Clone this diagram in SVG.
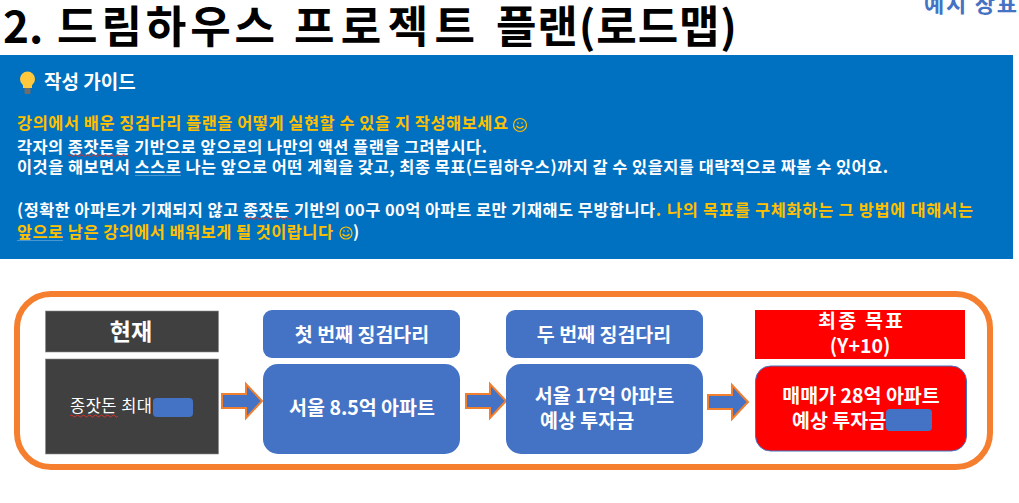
<svg xmlns="http://www.w3.org/2000/svg" width="1019" height="503" viewBox="0 0 1019 503">
<style>
text{font-family:"Noto Sans CJK KR","Noto Sans",sans-serif;font-weight:700}
.w{fill:#fff}.o{fill:#FFC000}.g{font-size:16.4px}
.c{text-anchor:middle}
.t{font-size:44px;fill:#000}
.blue{fill:#4472C4}
.dark{fill:#404040;stroke:#8a8a8a;stroke-width:.6}
.red{fill:#FF0000}
.wave{fill:none;stroke:#d8342c;stroke-width:1}
.line{fill:none;stroke:#a9c8e8;stroke-width:.8;opacity:.55}
.arrow{fill:#4472C4;stroke:#F07F30;stroke-width:2}
.b18{font-size:19.500px}
</style>
<rect width="1019" height="503" fill="#fff"/>
<g id="title">
<text class="t" x="3" y="43">2.</text>
<text class="t" x="57" y="43" textLength="218" lengthAdjust="spacing">드림하우스</text>
<text class="t" x="294" y="43" textLength="181" lengthAdjust="spacing">프로젝트</text>
<text class="t" x="496" y="43" textLength="241" lengthAdjust="spacing">플랜(로드맵)</text>
<text x="924" y="12" font-size="22" fill="#4472C4" textLength="93" lengthAdjust="spacing">예시 장표</text>
</g>
<g id="guide">
<rect x="0" y="55" width="1013" height="204" fill="#0070C0"/>
<g id="bulb">
<circle cx="27.500" cy="79" r="7.500" fill="#FFC83D"/>
<path d="M23 84h9v4h-9z" fill="#FFC83D"/>
<rect x="24.500" y="88" width="6" height="6" rx="1" fill="#6d6d6d"/>
</g>
<text class="w" x="44" y="89" font-size="19">작성 가이드</text>
<text class="g o" x="17" y="129" textLength="491" lengthAdjust="spacing">강의에서 배운 징검다리 플랜을 어떻게 실현할 수 있을 지 작성해보세요</text>
<g id="smile1" fill="none" stroke="#FFC000" stroke-width="1.200">
<circle cx="520" cy="125" r="6.500"/><path d="M516.500 126q3.500 4 7 0M517 123h2M521 123h2"/>
</g>
<text class="g w" x="17" y="153" textLength="470" lengthAdjust="spacing">각자의 종잣돈을 기반으로 앞으로의 나만의 액션 플랜을 그려봅시다.</text>
<text class="g w" x="17" y="173" textLength="871" lengthAdjust="spacing">이것을 해보면서 스스로 나는 앞으로 어떤 계획을 갖고, 최종 목표(드림하우스)까지 갈 수 있을지를 대략적으로 짜볼 수 있어요.</text>
<text class="g w" x="17" y="216" textLength="644" lengthAdjust="spacing">(정확한 아파트가 기재되지 않고 종잣돈 기반의 00구 00억 아파트 로만 기재해도 무방합니다<tspan class="o">.</tspan></text>
<text class="g o" x="667" y="216" textLength="306" lengthAdjust="spacing">나의 목표를 구체화하는 그 방법에 대해서는</text>
<text class="g o" x="17" y="238" textLength="316" lengthAdjust="spacing">앞으로 남은 강의에서 배워보게 될 것이랍니다</text>
<g id="smile2" fill="none" stroke="#FFC000" stroke-width="1.200">
<circle cx="346" cy="233" r="6"/><path d="M342.500 234q3.500 4 7 0M343 231h2M347 231h2"/>
</g>
<text class="g w" x="353" y="238">)</text>
<path class="wave" d="M68 155.500q1.500-2 3 0t3 0 3 0 3 0 3 0 3 0 3 0 3 0 3 0 3 0 3 0 3 0 3 0 3 0 3 0 3 0 3 0 3 0 3 0 3 0"/>
<path class="wave" d="M243 218.500q1.500-2 3 0t3 0 3 0 3 0 3 0 3 0 3 0 3 0 3 0 3 0 3 0 3 0 3 0 3 0 3 0 3 0"/>
<path class="line" d="M135 175.500h46"/>
<path class="line" d="M17 240.500h46"/>
</g>
<rect id="frame" x="17" y="294" width="973" height="173" rx="34" fill="#fff" stroke="#F57F2F" stroke-width="6"/>
<g id="connectors">
<path class="arrow" d="M222 394h24v-10l16 17-16 17v-10h-24z"/>
<path class="arrow" d="M466 394h24v-10l16 17-16 17v-10h-24z"/>
<path class="arrow" d="M708 395h24v-10l16 17-16 17v-10h-24z"/>
</g>
<g id="now-head">
<rect class="dark" x="45.500" y="311" width="173" height="41"/>
<text class="w c" x="131" y="340" font-size="23">현재</text>
</g>
<g id="now-body">
<rect class="dark" x="45.500" y="359" width="173" height="95"/>
<text class="w" x="70" y="412" font-size="16.500" style="font-weight:400" textLength="82" lengthAdjust="spacing">종잣돈 최대</text>
<path class="wave" d="M70 416q1.500-2 3 0t3 0 3 0 3 0 3 0 3 0 3 0 3 0 3 0 3 0 3 0 3 0 3 0 3 0 3 0 3 0"/>
<rect class="blue" x="153" y="398" width="40" height="19" rx="4"/>
</g>
<g id="step1-head">
<rect class="blue" x="263" y="310" width="197" height="48" rx="9"/>
<text class="w c b18" x="362" y="342">첫 번째 징검다리</text>
</g>
<g id="step1-body">
<rect class="blue" x="263" y="364" width="197" height="90" rx="15"/>
<text class="w c b18" x="362" y="415">서울 8.5억 아파트</text>
</g>
<g id="step2-head">
<rect class="blue" x="506" y="310" width="197" height="48" rx="9"/>
<text class="w c b18" x="604" y="342">두 번째 징검다리</text>
</g>
<g id="step2-body">
<rect class="blue" x="506" y="364" width="197" height="90" rx="15"/>
<text class="w c b18" x="604.500" y="403">서울 17억 아파트</text>
<text class="w b18" x="540" y="428">예상 투자금</text>
</g>
<g id="goal-head">
<rect class="red" x="755" y="310" width="210" height="49"/>
<text class="w b18" x="818" y="328" textLength="85" lengthAdjust="spacing">최종 목표</text>
<text class="w c b18" x="860" y="353">(Y+10)</text>
</g>
<g id="goal-body">
<rect class="red" x="755.500" y="366" width="211" height="85" rx="15" stroke="#4472C4" stroke-width="1"/>
<text class="w c b18" x="861" y="403">매매가 28억 아파트</text>
<text class="w b18" x="792" y="428">예상 투자금</text>
<rect class="blue" x="886" y="409" width="46" height="22" rx="4"/>
</g>
</svg>
